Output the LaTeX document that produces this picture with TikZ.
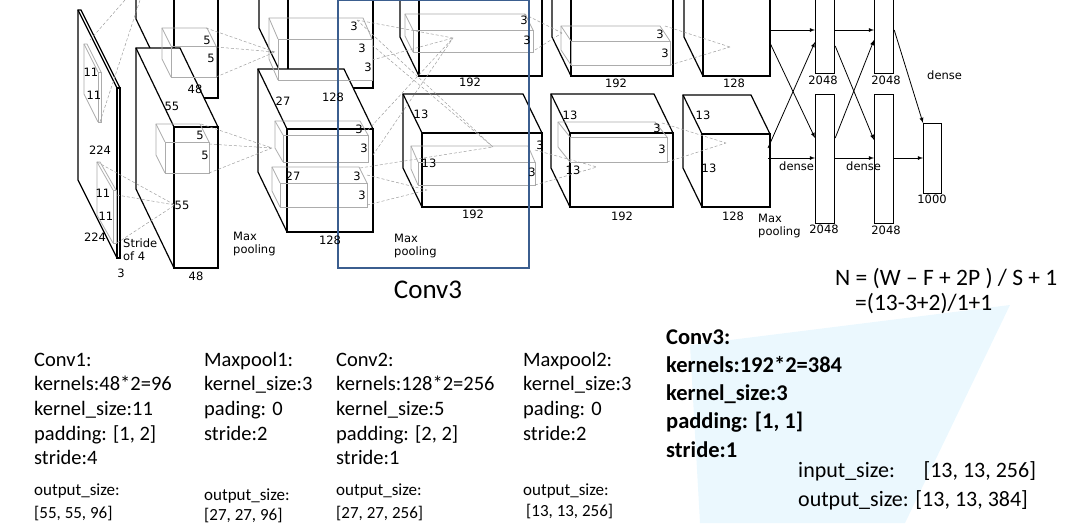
\documentclass[tikz,border=0pt]{standalone}
\usepackage{fontspec}
\setmainfont{Carlito}
\newfontfamily\djv{DejaVu Sans}
\usetikzlibrary{arrows,calc}
% cuboid: front top-left x, y, width, height, depth dx, dy, style
\newcommand\cube[7]{%
  \fill[white] (#1,#2+#4) -- ++(-#5,-#6) -- ++(0,-#4) -- ++(#3,0) -- (#1+#3,#2) -- (#1+#3,#2+#4) -- cycle;
  \draw[#7] (#1,#2) rectangle ++(#3,#4);
  \draw[#7] (#1,#2+#4) -- ++(-#5,-#6) -- ++(0,-#4) -- ++(#3,0) -- (#1+#3,#2);
  \draw[#7] (#1,#2) -- ++(-#5,-#6);}
\newcommand\filt[6]{%
  \draw[ker] (#1,#2) rectangle ++(#3,#4);
  \draw[ker] (#1,#2+#4) -- ++(-#5,-#6) -- ++(0,-#4) -- ++(#3,0) -- (#1+#3,#2);
  \draw[ker] (#1,#2) -- ++(-#5,-#6);}
\tikzset{
  blk/.style={line width=1.2pt, black},
  ker/.style={draw=gray!65, line width=0.8pt},
  dsh/.style={densely dashed, gray!75, line width=0.5pt},
  lab/.style={font=\djv\fontsize{11.5}{13}\selectfont, inner sep=0pt},
  txt/.style={font=\fontsize{20.5}{23}\selectfont, inner sep=0pt, anchor=base west},
  small/.style={font=\fontsize{17}{19}\selectfont, inner sep=0pt, anchor=base west},
  bold/.style={font=\bfseries\fontsize{22.5}{25}\selectfont, inner sep=0pt, anchor=base west},
  fc/.style={draw, line width=1.2pt, fill=white},
  arr/.style={-latex, line width=0.8pt}
}
\begin{document}
\begin{tikzpicture}[x=1pt,y=-1pt]
\useasboundingbox (0,0) rectangle (1075,523);
\clip (0,0) rectangle (1075,523);
% watermark
\fill[cyan!8] (690,345) -- (1010,305) -- (905,523) -- (700,523) -- cycle;
% input and conv1
\cube{117}{88}{3}{170}{39}{78}{blk}
\cube{174}{-40}{44}{138}{38}{79}{blk}
\cube{174}{127}{44}{141}{38}{79}{blk}
% conv2
\cube{288}{-60}{85}{148}{29}{60}{blk}
\cube{287}{129}{86}{103}{29}{60}{blk}
% conv3, conv4, conv5
\cube{419}{-40}{123}{116}{19}{39}{blk}
\cube{422}{133}{120}{74}{19}{39}{blk}
\cube{571}{-40}{102}{116}{19}{39}{blk}
\cube{570}{133}{103}{74}{19}{39}{blk}
\cube{703}{-40}{67}{116}{19}{39}{blk}
\cube{702}{134}{68}{73}{19}{39}{blk}
% kernels
\filt{98}{72}{3}{50}{14}{28}
\filt{113}{190}{3}{53}{16}{28}
\filt{171}{46}{45}{31}{9}{18}
\filt{165}{142}{44}{31}{9}{18}
\filt{278}{39}{94}{41}{9}{21}
\filt{283}{135}{85}{27}{8}{14}
\filt{280}{183}{87}{24}{8}{16}
\filt{413}{30}{120}{22}{8}{16}
\filt{418}{162}{117}{23}{7}{16}
\filt{571}{41}{99}{24}{10}{15}
\filt{570}{137}{97}{25}{12}{15}
% dashed receptive lines
\coordinate (p0) at (125,0);
\coordinate (p1) at (175,205);
\coordinate (p2) at (275,52);
\coordinate (p3) at (272,148);
\coordinate (p4) at (453,38);
\coordinate (p5) at (493,147);
\coordinate (p6) at (427,190);
\coordinate (p7) at (562,33);
\coordinate (p8) at (597,167);
\coordinate (p9) at (730,47);
\coordinate (p10) at (726,143);
\draw[dsh] (90,40) -- (p0) (100,122) -- (140,0);
\draw[dsh] (97,162) -- (p1) (117,195) -- (p1) (117,243) -- (p1);
\draw[dsh] (206,28) -- (p2) (216,47) -- (p2) (216,77) -- (p2);
\draw[dsh] (201,124) -- (p3) (209,144) -- (p3) (209,173) -- (p3);
\draw[dsh] (357,20) -- (p4) (357,20) -- (p5) (372,45) -- (p5) (372,60) -- (p4);
\draw[dsh] (368,130) -- (p4) (373,155) -- (p4);
\draw[dsh] (367,175) -- (p6) (367,205) -- (p6) (360,168) -- (p5);
\draw[dsh] (524,14) -- (p7) (535,50) -- (p7);
\draw[dsh] (535,150) -- (p8) (535,185) -- (p8);
\draw[dsh] (665,26) -- (p9) (670,65) -- (p9);
\draw[dsh] (662,123) -- (p10) (667,162) -- (p10);
% dense layers
\node[fc, minimum width=19pt, minimum height=100pt, anchor=south west] (fc1a) at (815,74) {};
\node[fc, minimum width=19pt, minimum height=129pt, anchor=north west] (fc1b) at (815,94) {};
\node[fc, minimum width=19pt, minimum height=100pt, anchor=south west] (fc2a) at (874,74) {};
\node[fc, minimum width=19pt, minimum height=129pt, anchor=north west] (fc2b) at (874,94) {};
\node[fc, minimum width=18pt, minimum height=70pt, anchor=north west] (out) at (923,123) {};
\coordinate (c5a) at (770,30);
\coordinate (c5b) at (770,43);
\coordinate (c5c) at (768,148);
\coordinate (c5d) at (768,158);
\draw[arr] (c5a) -- (fc1a.west |- 0,30);
\draw[arr] (c5b) -- (815,138);
\draw[arr] (c5c) -- (815,42);
\draw[arr] (c5d) -- (fc1b.west |- 0,158);
\draw[arr] (fc1a.east |- 0,30) -- (fc2a.west |- 0,30);
\draw[arr] (fc1a.east |- 0,46) -- (874,140);
\draw[arr] (fc1b.east |- 0,138) -- (874,40);
\draw[arr] (fc1b.east |- 0,158) -- (fc2b.west |- 0,158);
\draw[arr] (fc2a.east |- 0,30) -- (out.north west);
\draw[arr] (fc2b.east |- 0,158) -- (out.west |- 0,158);
% blue frame
\draw[line width=2pt, color={rgb,255:red,59;green,94;blue,143}] (338,0) rectangle (529,268);
\node[font=\fontsize{27}{30}\selectfont] (c3) at (428,290) {Conv3};
% diagram labels
\foreach \x/\y/\t in {100/150/224, 95/237/224, 121/273/3, 91/72/11, 94/95/11, 103/193/11, 106/216/11,
  207/40/5, 211/58/5, 195/89/48, 172/106/55, 200/135/5, 205/155/5, 182/205/55, 196/276/48,
  354/26/3, 362/48/3, 368/67/3, 333/97/128, 283/101/27, 359/129/3, 364/148/3, 293/176/27, 357/176/3, 362/195/3, 330/240/128,
  524/20/3, 527/40/3, 470/82/192, 421/114/13, 429/163/13, 540/145/3, 532/172/3, 473/214/192,
  660/34/3, 665/53/3, 616/83/192, 570/115/13, 657/128/3, 662/149/3, 573/170/13, 622/216/192,
  734/83/128, 703/115/13, 709/168/13, 733/216/128,
  823/80/2048, 886/80/2048, 824/229/2048, 886/230/2048, 932/199/1000}
  \node[lab] at (\x,\y) {\t};
\node[lab, anchor=west, align=left] at (123,250) {Stride\\of 4};
\node[lab, anchor=west, align=left] at (233,244) {Max\\pooling};
\node[lab, anchor=west, align=left] at (394,246) {Max\\pooling};
\node[lab, anchor=west, align=left] at (758,226) {Max\\pooling};
\node[lab, anchor=west] at (779,166) {dense};
\node[lab, anchor=west] at (846,166) {dense};
\node[lab, anchor=west] at (927,75) {dense};
% formula
\node[font=\fontsize{23.5}{26}\selectfont, inner sep=0pt, anchor=base west] (f1) at (835,285) {N = (W -- F + 2P ) / S + 1};
\node[font=\fontsize{23.5}{26}\selectfont, inner sep=0pt, anchor=base west] (f2) at (855,310) {=(13-3+2)/1+1};
% parameter columns
\foreach \t [count=\i] in {Conv1:, kernels:48*2=96, kernel\_size:11, {padding: [1, 2]}, stride:4}
  \node[txt] at (34,366+24.7*\i-24.7) {\t};
\node[small] at (34,495) {output\_size:};
\node[small] at (34,518) {[55, 55, 96]};
\foreach \t [count=\i] in {Maxpool1:, kernel\_size:3, {pading: 0}, stride:2}
  \node[txt] at (204,366+24.7*\i-24.7) {\t};
\node[small] at (204,500) {output\_size:};
\node[small] at (204,520) {[27, 27, 96]};
\foreach \t [count=\i] in {Conv2:, kernels:128*2=256, kernel\_size:5, {padding: [2, 2]}, stride:1}
  \node[txt] at (336,366+24.7*\i-24.7) {\t};
\node[small] at (336,495) {output\_size:};
\node[small] at (336,518) {[27, 27, 256]};
\foreach \t [count=\i] in {Maxpool2:, kernel\_size:3, {pading: 0}, stride:2}
  \node[txt] at (523,366+24.7*\i-24.7) {\t};
\node[small] at (523,495) {output\_size:};
\node[small] at (526,516) {[13, 13, 256]};
\foreach \t [count=\i] in {Conv3:, kernels:192*2=384, kernel\_size:3, {padding: [1, 1]}, stride:1}
  \node[bold] at (666,344+28.3*\i-28.3) {\t};
\node[txt, font=\fontsize{22}{24}\selectfont] at (798,477) {input\_size:\hspace{1.3em}[13, 13, 256]};
\node[txt, font=\fontsize{22}{24}\selectfont] at (798,506) {output\_size: [13, 13, 384]};
\end{tikzpicture}
\end{document}
